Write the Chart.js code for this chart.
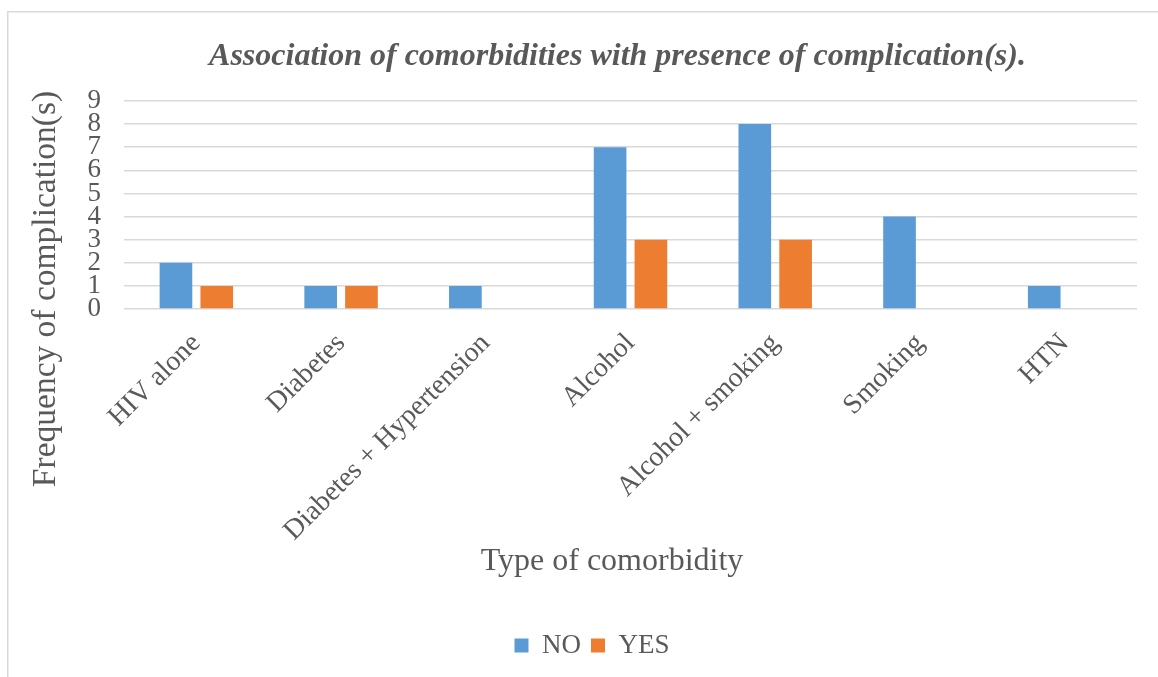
<!DOCTYPE html>
<html>
<head>
<meta charset="utf-8">
<title>Association of comorbidities with presence of complication(s)</title>
<script src="https://cdn.jsdelivr.net/npm/chart.js@4/dist/chart.umd.min.js"></script>
<style>
  html, body { margin: 0; padding: 0; background: #ffffff; }
  #wrap { position: relative; width: 1158px; height: 677px; }
  canvas { display: block; }
</style>
</head>
<body>
<div id="wrap"><canvas id="chart" width="1158" height="677"></canvas></div>
<script>
// Comorbidity groups along the x axis
const categories = [
  'HIV alone',
  'Diabetes',
  'Diabetes + Hypertension',
  'Alcohol',
  'Alcohol + smoking',
  'Smoking',
  'HTN'
];

// Number of patients without / with complication(s) in each group
const noValues  = [2, 1, 1, 7, 8, 4, 1];
const yesValues = [1, 1, 0, 3, 3, 0, 0];

const seriesNames = ['NO', 'YES'];

// Frequency axis
const yMin = 0;
const yMax = 9;
const yStep = 1;

const chartTitle = 'Association of comorbidities with presence of complication(s).';
const xTitle = 'Type of comorbidity';
const yTitle = 'Frequency of complication(s)';

const TEXT = '#595959';
const GRID = '#d9d9d9';
const SERIF = '"Liberation Serif", "Times New Roman", serif';

// Frame, chart title and axis titles drawn straight onto the canvas
const chartText = {
  id: 'chartText',
  beforeDraw(chart) {
    const ctx = chart.ctx;
    ctx.save();
    ctx.strokeStyle = GRID;
    ctx.lineWidth = 1.5;
    ctx.strokeRect(7.75, 11.75, 1400, 1000);
    ctx.restore();
  },
  afterDraw(chart) {
    const ctx = chart.ctx;
    ctx.save();
    ctx.fillStyle = TEXT;

    // chart title
    ctx.font = 'italic bold 32px ' + SERIF;
    ctx.textAlign = 'center';
    ctx.textBaseline = 'alphabetic';
    ctx.fillText(chartTitle, 617.5, 65);

    // x axis title
    ctx.font = '32px ' + SERIF;
    ctx.fillText(xTitle, 612, 570);

    // y axis title, reading bottom to top
    ctx.font = '33.5px ' + SERIF;
    ctx.translate(55, 289);
    ctx.rotate(-Math.PI / 2);
    ctx.fillText(yTitle, 0, 0);
    ctx.restore();
  }
};

const ctx = document.getElementById('chart').getContext('2d');
new Chart(ctx, {
  type: 'bar',
  data: {
    labels: categories,
    datasets: [
      {
        label: seriesNames[0],
        data: noValues,
        backgroundColor: '#5B9BD5',
        borderWidth: 0,
        categoryPercentage: 0.564,
        barPercentage: 0.8
      },
      {
        label: seriesNames[1],
        data: yesValues,
        backgroundColor: '#ED7D31',
        borderWidth: 0,
        categoryPercentage: 0.564,
        barPercentage: 0.8
      }
    ]
  },
  options: {
    responsive: false,
    animation: false,
    devicePixelRatio: 1,
    layout: {
      padding: { top: 101, left: 47, right: 21, bottom: 8 }
    },
    plugins: {
      title: { display: false },
      tooltip: { enabled: false },
      legend: {
        display: true,
        position: 'bottom',
        labels: {
          boxWidth: 14,
          boxHeight: 14,
          padding: 10,
          color: TEXT,
          font: { family: SERIF, size: 27 }
        }
      }
    },
    scales: {
      x: {
        grid: { display: false, drawTicks: false },
        border: { display: false },
        ticks: {
          color: TEXT,
          font: { family: SERIF, size: 28 },
          minRotation: 45,
          maxRotation: 45,
          autoSkip: false,
          padding: 18,
          labelOffset: 0
        },
        afterFit(scale) { scale.height = 313; }
      },
      y: {
        min: yMin,
        max: yMax,
        grid: { color: GRID, lineWidth: 1.5, drawTicks: false },
        border: { display: false },
        ticks: {
          stepSize: yStep,
          autoSkip: false,
          color: TEXT,
          padding: 23,
          font: { family: SERIF, size: 27, lineHeight: 1 }
        },
        afterFit(scale) { scale.width = 77; }
      }
    }
  },
  plugins: [chartText]
});
</script>
</body>
</html>
